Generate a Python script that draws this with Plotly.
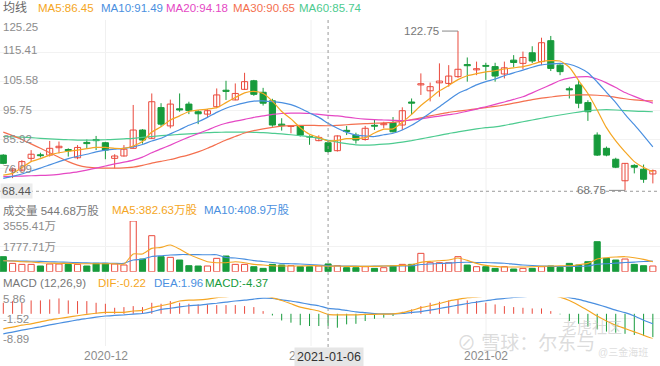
import plotly.graph_objects as go

W, H = 660, 366

# ---------------- data ----------------
idx = list(range(71))
open_ = [80.7, 75.4, 75.6, 79.6, 80.8, 80.7, 83.2, 82.6, 79.8, 85.0,
         86.0, 84.9, 79.6, 80.4, 83.0, 89.2, 86.4, 96.8, 90.6, 96.4,
         98.0, 95.4, 94.6, 97.1, 102.7, 99.4, 103.0, 105.9, 102.0, 99.1,
         91.2, 90.4, 90.7, 87.0, 85.6, 84.9, 82.2, 89.1, 87.5, 86.0,
         90.8, 91.0, 91.7, 90.9, 98.7, 104.5, 102.5, 105.2, 105.0, 107.3,
         111.4, 109.6, 111.1, 110.7, 108.2, 112.9, 111.8, 115.4, 112.4, 119.5,
         111.2, 103.2, 104.5, 98.5, 87.5, 83.0, 79.3, 72.0, 77.2, 75.9, 74.3]
high = [81.0, 76.5, 79.0, 82.4, 81.5, 85.5, 85.3, 83.0, 84.1, 86.0,
        87.2, 85.2, 81.0, 84.1, 97.7, 89.5, 101.6, 98.3, 99.5, 101.6,
        98.8, 96.0, 96.3, 103.3, 105.9, 105.0, 108.6, 106.2, 103.5, 99.8,
        93.2, 90.9, 90.9, 87.4, 87.4, 85.6, 87.4, 90.6, 88.3, 90.6,
        92.6, 92.0, 93.6, 96.9, 99.9, 108.4, 105.3, 111.8, 111.2, 122.75,
        113.8, 112.4, 112.0, 112.0, 112.4, 114.6, 115.8, 117.6, 120.5, 121.1,
        111.5, 103.9, 106.0, 99.3, 88.4, 83.6, 79.8, 78.0, 77.6, 77.5, 75.8]
low = [77.6, 72.9, 75.1, 78.5, 79.9, 80.2, 81.3, 80.2, 79.3, 83.0,
       82.4, 79.3, 76.2, 80.2, 83.0, 84.6, 86.2, 90.3, 89.8, 95.4,
       94.6, 91.2, 93.6, 96.6, 99.4, 99.3, 102.8, 100.8, 97.5, 90.3,
       89.0, 88.1, 87.0, 84.2, 85.4, 81.5, 81.9, 87.5, 84.6, 85.6,
       89.2, 89.8, 88.4, 89.2, 94.3, 101.1, 98.9, 100.5, 103.9, 106.9,
       105.6, 107.8, 106.2, 105.6, 106.7, 110.5, 109.8, 111.9, 111.2, 109.2,
       107.8, 99.9, 96.6, 92.3, 80.4, 80.3, 76.3, 68.75, 74.5, 71.3, 71.1]
close = [77.9, 76.0, 78.5, 81.0, 80.5, 83.0, 83.7, 82.2, 83.3, 84.6,
         85.6, 82.4, 80.4, 82.7, 89.2, 85.8, 98.8, 91.2, 98.0, 96.0,
         95.8, 94.7, 95.75, 101.1, 102.3, 101.6, 105.6, 101.3, 98.3, 90.9,
         90.7, 90.7, 87.5, 86.8, 86.7, 81.9, 87.2, 88.7, 85.8, 89.8,
         90.5, 91.4, 88.6, 95.75, 98.3, 104.9, 103.9, 105.8, 107.5, 109.8,
         111.0, 110.0, 110.8, 107.5, 110.3, 112.1, 113.8, 112.6, 118.8, 110.1,
         109.0, 102.8, 98.3, 95.4, 80.7, 80.7, 76.6, 77.9, 76.6, 72.5, 75.4]

ma5 = [73.9, 74.5, 76.5, 78.5, 79.5, 80.7, 81.5, 82.0, 82.4, 82.9,
       83.3, 83.3, 83.0, 83.0, 83.8, 85.3, 88.5, 90.3, 92.6, 94.0,
       95.5, 96.0, 96.3, 96.8, 98.5, 100.2, 101.8, 102.3, 101.6, 99.0,
       95.5, 93.0, 90.0, 87.8, 86.7, 85.5, 85.7, 86.3, 86.3, 86.6,
       88.2, 89.5, 89.6, 91.8, 94.5, 97.5, 100.0, 102.5, 104.3, 106.3,
       107.6, 108.3, 108.9, 109.3, 109.9, 110.3, 110.7, 111.5, 112.4, 112.7,
       112.6, 110.5, 106.0, 101.6, 96.0, 90.0, 85.5, 81.8, 78.5, 76.5, 75.1]
ma10 = [72.8, 73.5, 74.3, 75.3, 76.3, 77.4, 78.5, 79.5, 80.3, 81.0,
        81.8, 82.4, 82.7, 83.0, 83.5, 84.3, 85.5, 86.4, 87.9, 89.3,
        90.8, 92.0, 93.5, 95.2, 96.6, 97.6, 98.4, 99.0, 99.1, 98.8,
        98.5, 97.8, 96.6, 95.0, 93.5, 91.5, 89.8, 88.4, 87.5, 87.2,
        87.0, 87.6, 88.1, 89.2, 90.8, 92.8, 95.0, 97.1, 99.4, 101.6,
        103.0, 104.5, 105.6, 106.5, 107.6, 108.6, 109.5, 110.5, 111.3, 111.6,
        111.8, 111.5, 110.4, 108.6, 105.5, 102.0, 98.5, 94.5, 91.0, 87.3, 83.5]
ma20 = [73.4, 73.5, 73.6, 73.7, 73.8, 73.9, 74.2, 74.6, 75.0, 75.6,
        76.3, 77.0, 77.7, 78.3, 79.0, 80.0, 81.5, 82.8, 84.1, 85.5,
        86.8, 88.0, 89.2, 90.5, 91.5, 92.2, 92.8, 93.5, 94.0, 94.5,
        94.8, 94.9, 94.9, 94.8, 94.5, 94.2, 94.0, 93.6, 93.2, 92.9,
        92.7, 92.6, 92.5, 92.4, 92.6, 93.0, 93.5, 93.9, 94.4, 94.9,
        95.6, 96.3, 97.1, 97.9, 98.7, 99.6, 100.5, 101.8, 103.2, 104.6,
        106.0, 106.8, 107.2, 107.3, 106.5, 105.2, 103.6, 101.9, 100.6, 99.4, 98.3]
ma30 = [88.5, 87.3, 86.0, 84.5, 83.0, 81.5, 80.0, 78.5, 77.3, 76.6,
        76.4, 76.3, 76.3, 76.4, 76.6, 77.2, 78.0, 78.6, 79.2, 80.0,
        80.8, 81.8, 83.0, 84.4, 85.8, 87.0, 88.2, 89.0, 89.6, 90.1,
        90.5, 90.7, 90.8, 90.8, 90.7, 90.65, 90.8, 91.0, 91.2, 91.4,
        91.5, 91.6, 91.8, 92.2, 92.7, 93.3, 94.0, 94.6, 95.2, 95.6,
        96.0, 96.4, 96.8, 97.2, 97.7, 98.3, 98.9, 99.5, 100.0, 100.4,
        100.8, 101.0, 101.1, 101.1, 101.0, 100.8, 100.3, 99.8, 99.4, 99.2, 99.1]
ma60 = [87.0, 86.9, 86.8, 86.6, 86.4, 86.2, 86.0, 85.9, 85.8, 85.8,
        85.8, 85.9, 86.0, 86.2, 86.4, 86.7, 87.0, 87.3, 87.5, 87.7,
        87.9, 88.1, 88.3, 88.4, 88.5, 88.5, 88.5, 88.4, 88.3, 88.1,
        87.9, 87.6, 87.3, 86.9, 86.4, 85.74, 85.1, 84.6, 84.2, 84.1,
        84.2, 84.4, 84.7, 85.1, 85.6, 86.2, 86.8, 87.4, 88.0, 88.6,
        89.1, 89.6, 90.0, 90.3, 90.8, 91.4, 92.0, 92.6, 93.2, 93.8,
        94.3, 94.8, 95.3, 95.7, 96.0, 96.1, 96.0, 95.8, 95.6, 95.5, 95.4]

volume = [1053, 585, 515, 515, 400, 540, 540, 515, 515, 400,
          585, 585, 540, 470, 3555, 890, 2526, 1053, 1006, 819,
          421, 400, 400, 936, 1100, 515, 515, 351, 234, 515,
          468, 421, 351, 351, 400, 545, 421, 281, 281, 351,
          234, 281, 400, 515, 515, 1287, 632, 632, 632, 1053,
          468, 351, 351, 234, 351, 187, 234, 234, 351, 400,
          304, 585, 468, 702, 2105, 936, 819, 889, 515, 421, 400]
vol_ma5 = [772, 748, 700, 678, 632, 608, 585, 585, 561, 561,
           561, 561, 561, 538, 1240, 1240, 1637, 1707, 1871, 1590,
           1216, 936, 702, 632, 632, 702, 632, 515, 468, 421,
           400, 400, 400, 421, 421, 383, 398, 374, 374, 374,
           374, 398, 421, 444, 491, 655, 725, 772, 819, 959,
           795, 585, 444, 374, 327, 327, 327, 351, 374, 398,
           421, 421, 491, 585, 889, 982, 1029, 1053, 982, 865, 702]
vol_ma10 = [772, 760, 745, 735, 725, 700, 680, 660, 640, 620,
            610, 600, 590, 585, 824, 870, 1070, 1120, 1170, 1200,
            1200, 1195, 1185, 1190, 1000, 960, 880, 780, 720, 650,
            580, 560, 540, 510, 470, 409, 400, 395, 390, 385,
            390, 395, 395, 400, 420, 500, 540, 570, 600, 650,
            660, 650, 640, 620, 590, 530, 470, 430, 400, 380,
            360, 370, 380, 400, 520, 560, 600, 640, 670, 720, 740]

dif = [-5.4, -4.8, -4.1, -3.6, -2.9, -2.2, -1.7, -1.2, -0.7, -0.2,
       0.2, 0.5, 0.5, 0.5, 1.0, 1.2, 2.2, 2.9, 3.6, 4.6,
       4.9, 5.0, 5.3, 5.8, 6.1, 6.5, 6.7, 7.0, 6.5, 5.8,
       4.8, 3.6, 2.4, 1.7, 1.0, -0.22, -0.4, -0.4, -0.4, -0.2,
       -0.2, -0.1, 0.0, 0.4, 1.2, 2.2, 2.9, 3.7, 4.6, 5.2,
       5.8, 6.0, 6.4, 6.5, 6.6, 6.7, 6.8, 7.1, 7.3, 6.7,
       6.0, 4.8, 3.1, 1.2, -0.8, -2.6, -4.1, -5.3, -6.5, -7.7, -9.0]
dea = [-7.2, -6.6, -5.9, -5.3, -4.7, -4.0, -3.4, -2.8, -2.2, -1.7,
       -1.2, -0.8, -0.6, -0.4, -0.1, 0.1, 0.7, 1.6, 2.0, 2.5,
       2.9, 3.1, 3.5, 3.8, 4.2, 4.6, 4.9, 5.3, 5.6, 5.5,
       5.0, 4.6, 4.0, 3.4, 2.9, 1.96, 1.7, 1.2, 0.7, 0.4,
       0.1, 0.0, 0.0, 0.1, 0.5, 0.8, 1.3, 1.9, 2.5, 3.1,
       3.7, 4.2, 4.7, 5.2, 5.5, 5.9, 6.1, 6.4, 6.6, 6.7,
       6.5, 5.8, 5.2, 4.3, 3.4, 2.4, 1.3, 0.4, -0.8, -2.3, -3.6]
macd = [3.96, 4.56, 3.96, 4.80, 4.80, 5.16, 5.52, 4.80, 4.56, 4.56,
        3.96, 3.60, 2.16, 2.40, 2.76, 2.40, 3.96, 3.60, 4.56, 3.96,
        3.60, 3.36, 3.36, 3.12, 3.12, 3.12, 2.76, 2.40, 0.96, -0.6,
        -2.4, -3.2, -4.1, -4.4, -4.4, -4.37, -5.0, -3.8, -3.6, -2.6,
        -1.8, -1.4, -0.8, 0.7, 1.56, 2.76, 3.96, 4.32, 4.80, 5.16,
        4.80, 4.56, 3.96, 3.36, 2.76, 2.40, 2.16, 1.92, 1.92, 0.96,
        -0.2, -2.6, -3.6, -4.6, -5.6, -6.4, -6.8, -7.2, -7.6, -8.0, -8.4]

price_ticks = [125.25, 115.41, 105.58, 95.75, 85.92, 76.09]
vol_ticks = [3555.41, 1777.71]
macd_ticks = [5.86, -1.52, -8.89]
month_labels = ["2020-12", "2021-01", "2021-02"]
month_pos = [11, 33, 52]
cross_i = 35
cross_price = 68.44
cross_date = "2021-01-06"

# ---------------- style ----------------
RED = '#ea4a3d'
GREEN = '#179b3c'
C5, C10, C20, C30, C60 = '#f5a623', '#4a8fe0', '#e548c4', '#f4704f', '#4dcb90'
GRAY = '#8c8c8c'
FONT = 'Liberation Sans, Noto Sans CJK SC, sans-serif'

def py(p):
    return 1 - p / H

def px(x):
    return x / W

def xpix(i):
    return 3.3 + 9.28 * i

fig = go.Figure()

up = [i for i in idx if close[i] >= open_[i]]
dn = [i for i in idx if close[i] < open_[i]]

def wick(sel):
    xs, ys = [], []
    for i in sel:
        xs += [i, i, None]
        ys += [low[i], high[i], None]
    return xs, ys

for sel, col in ((up, RED), (dn, GREEN)):
    xs, ys = wick(sel)
    fig.add_trace(go.Scatter(x=xs, y=ys, mode='lines', line=dict(color=col, width=1),
                             hoverinfo='skip', yaxis='y'))

fig.add_trace(go.Bar(x=up, y=[close[i] - open_[i] for i in up], base=[open_[i] for i in up],
                     width=0.66, marker=dict(color='white', line=dict(color=RED, width=1)), yaxis='y'))
fig.add_trace(go.Bar(x=dn, y=[open_[i] - close[i] for i in dn], base=[close[i] for i in dn],
                     width=0.66, marker=dict(color=GREEN, line=dict(color=GREEN, width=1)), yaxis='y'))

for arr, col in ((ma60, C60), (ma30, C30), (ma20, C20), (ma10, C10), (ma5, C5)):
    fig.add_trace(go.Scatter(x=idx, y=arr, mode='lines', line=dict(color=col, width=1.2, shape='spline', smoothing=0.6),
                             yaxis='y'))

# volume
fig.add_trace(go.Bar(x=up, y=[volume[i] for i in up], width=0.66,
                     marker=dict(color='white', line=dict(color=RED, width=1)), yaxis='y2'))
fig.add_trace(go.Bar(x=dn, y=[volume[i] for i in dn], width=0.66,
                     marker=dict(color=GREEN, line=dict(color=GREEN, width=1)), yaxis='y2'))
fig.add_trace(go.Scatter(x=idx, y=vol_ma10, mode='lines', line=dict(color=C10, width=1.1, shape='spline', smoothing=0.6), yaxis='y2'))
fig.add_trace(go.Scatter(x=idx, y=vol_ma5, mode='lines', line=dict(color=C5, width=1.1, shape='spline', smoothing=0.6), yaxis='y2'))

# macd histogram
for sign, col in ((1, RED), (-1, GREEN)):
    xs, ys = [], []
    for i in idx:
        if macd[i] * sign > 0:
            xs += [i, i, None]
            ys += [0, macd[i], None]
    fig.add_trace(go.Scatter(x=xs, y=ys, mode='lines', line=dict(color=col, width=1), yaxis='y3'))
fig.add_trace(go.Scatter(x=idx, y=dea, mode='lines', line=dict(color=C10, width=1.2, shape='spline', smoothing=0.6), yaxis='y3'))
fig.add_trace(go.Scatter(x=idx, y=dif, mode='lines', line=dict(color=C5, width=1.2, shape='spline', smoothing=0.6), yaxis='y3'))

ann = []
def text(x, y, s, color=GRAY, size=11.5, anchor='left', **kw):
    ann.append(dict(x=px(x), y=py(y), xref='paper', yref='paper', text=s, showarrow=False,
                    xanchor=anchor, yanchor='middle', font=dict(color=color, size=size, family=FONT), **kw))

# header legends
text(1, 8.5, '均线', color='#666666', size=12)
text(36, 8.5, 'MA5:86.45', color=C5)
text(99, 8.5, 'MA10:91.49', color=C10)
text(164, 8.5, 'MA20:94.18', color=C20)
text(231, 8.5, 'MA30:90.65', color=C30)
text(297, 8.5, 'MA60:85.74', color=C60)

# price axis labels
for v, yy in zip(price_ticks, [27, 50.5, 80.5, 110.5, 139.5, 168.5]):
    text(1, yy, f'{v:.2f}')

text(1, 210, '成交量 544.68万股', color='#777777', size=11.5)
text(110, 210, 'MA5:382.63万股', color=C5)
text(202, 210, 'MA10:408.9万股', color=C10)
text(1, 225.5, '3555.41万')
text(1, 246.5, '1777.71万')

text(1, 282.5, 'MACD (12,26,9)', color='#777777')
text(96, 282.5, 'DIF:-0.22', color=C5)
text(152, 282.5, 'DEA:1.96', color=C10)
text(203, 282.5, 'MACD:-4.37', color=GREEN)
text(1, 298.5, '5.86')
text(1, 319, '-1.52')
text(1, 339, '-8.89')

# date labels
for lab, xx in zip(month_labels, [105.5, 311, 486]):
    text(xx, 356, lab, anchor='center', size=12)
# crosshair labels
ann.append(dict(x=px(xpix(cross_i) + 0.5), y=py(356.5), xref='paper', yref='paper', text=cross_date,
                showarrow=False, xanchor='center', yanchor='middle', bgcolor='#e6e6e6',
                font=dict(color='#333333', size=12.5, family=FONT), borderpad=2))
ann.append(dict(x=0, y=cross_price, xref='paper', yref='y', text=f'{cross_price:.2f}', showarrow=False,
                xanchor='left', yanchor='middle', bgcolor='#ececec',
                font=dict(color='#555555', size=11.5, family=FONT), borderpad=1))

# high / low markers
hi_i = high.index(max(high))
lo_i = low.index(min(low))
ann.append(dict(x=px(441), y=max(high), xref='paper', yref='y', text=f'{max(high):.2f}', showarrow=False,
                xanchor='right', yanchor='middle', font=dict(color='#777777', size=11.5, family=FONT)))
ann.append(dict(x=px(608), y=min(low), xref='paper', yref='y', text=f'{min(low):.2f}', showarrow=False,
                xanchor='right', yanchor='middle', font=dict(color='#777777', size=11.5, family=FONT)))

# watermark
text(455, 343, '⊘ 雪球：尔东与', color='rgba(190,190,190,0.55)', size=19)
text(560, 327, '老虎社区', color='rgba(190,190,190,0.55)', size=15)
text(596, 352, '@三金海班', color='rgba(200,200,200,0.6)', size=10)

shapes = []
for xx in [105.5, 311, 486]:
    shapes.append(dict(type='line', xref='paper', yref='paper', x0=px(xx), x1=px(xx), y0=py(346), y1=py(20),
                       line=dict(color='#f0f0f0', width=1), layer='below'))
shapes.append(dict(type='line', xref='x', yref='paper', x0=cross_i, x1=cross_i, y0=py(347), y1=py(19),
                   line=dict(color='#9a9a9a', width=1, dash='dot')))
shapes.append(dict(type='line', xref='paper', yref='y', x0=0, x1=1, y0=cross_price, y1=cross_price,
                   line=dict(color='#9a9a9a', width=1, dash='dot')))
shapes.append(dict(type='line', xref='paper', yref='y', x0=px(442), x1=px(xpix(hi_i)), y0=max(high), y1=max(high),
                   line=dict(color='#888888', width=1)))
shapes.append(dict(type='line', xref='paper', yref='y', x0=px(609), x1=px(xpix(lo_i)), y0=min(low), y1=min(low),
                   line=dict(color='#888888', width=1)))

fig.update_layout(
    width=W, height=H, margin=dict(l=0, r=0, t=0, b=0),
    paper_bgcolor='white', plot_bgcolor='white', showlegend=False, barmode='overlay',
    annotations=ann, shapes=shapes,
    xaxis=dict(range=[-0.356, 70.77], visible=False, fixedrange=True),
    yaxis=dict(domain=[py(197.7), py(23.7)], range=[66.26, 125.25], tickvals=price_ticks,
               showticklabels=False, showgrid=True, gridcolor='#f2f2f2', zeroline=False, fixedrange=True),
    yaxis2=dict(domain=[py(271.7), py(221)], range=[0, 3555.41], tickvals=vol_ticks,
                showticklabels=False, showgrid=True, gridcolor='#f2f2f2', zeroline=False, fixedrange=True),
    yaxis3=dict(domain=[py(338.5), py(297.5)], range=[-8.89, 5.86], tickvals=macd_ticks,
                showticklabels=False, showgrid=True, gridcolor='#f2f2f2', zeroline=False, fixedrange=True),
)

fig.write_html('out.html', config={'displayModeBar': False},
               post_script="document.body.style.margin='0';document.body.style.overflow='hidden';")
